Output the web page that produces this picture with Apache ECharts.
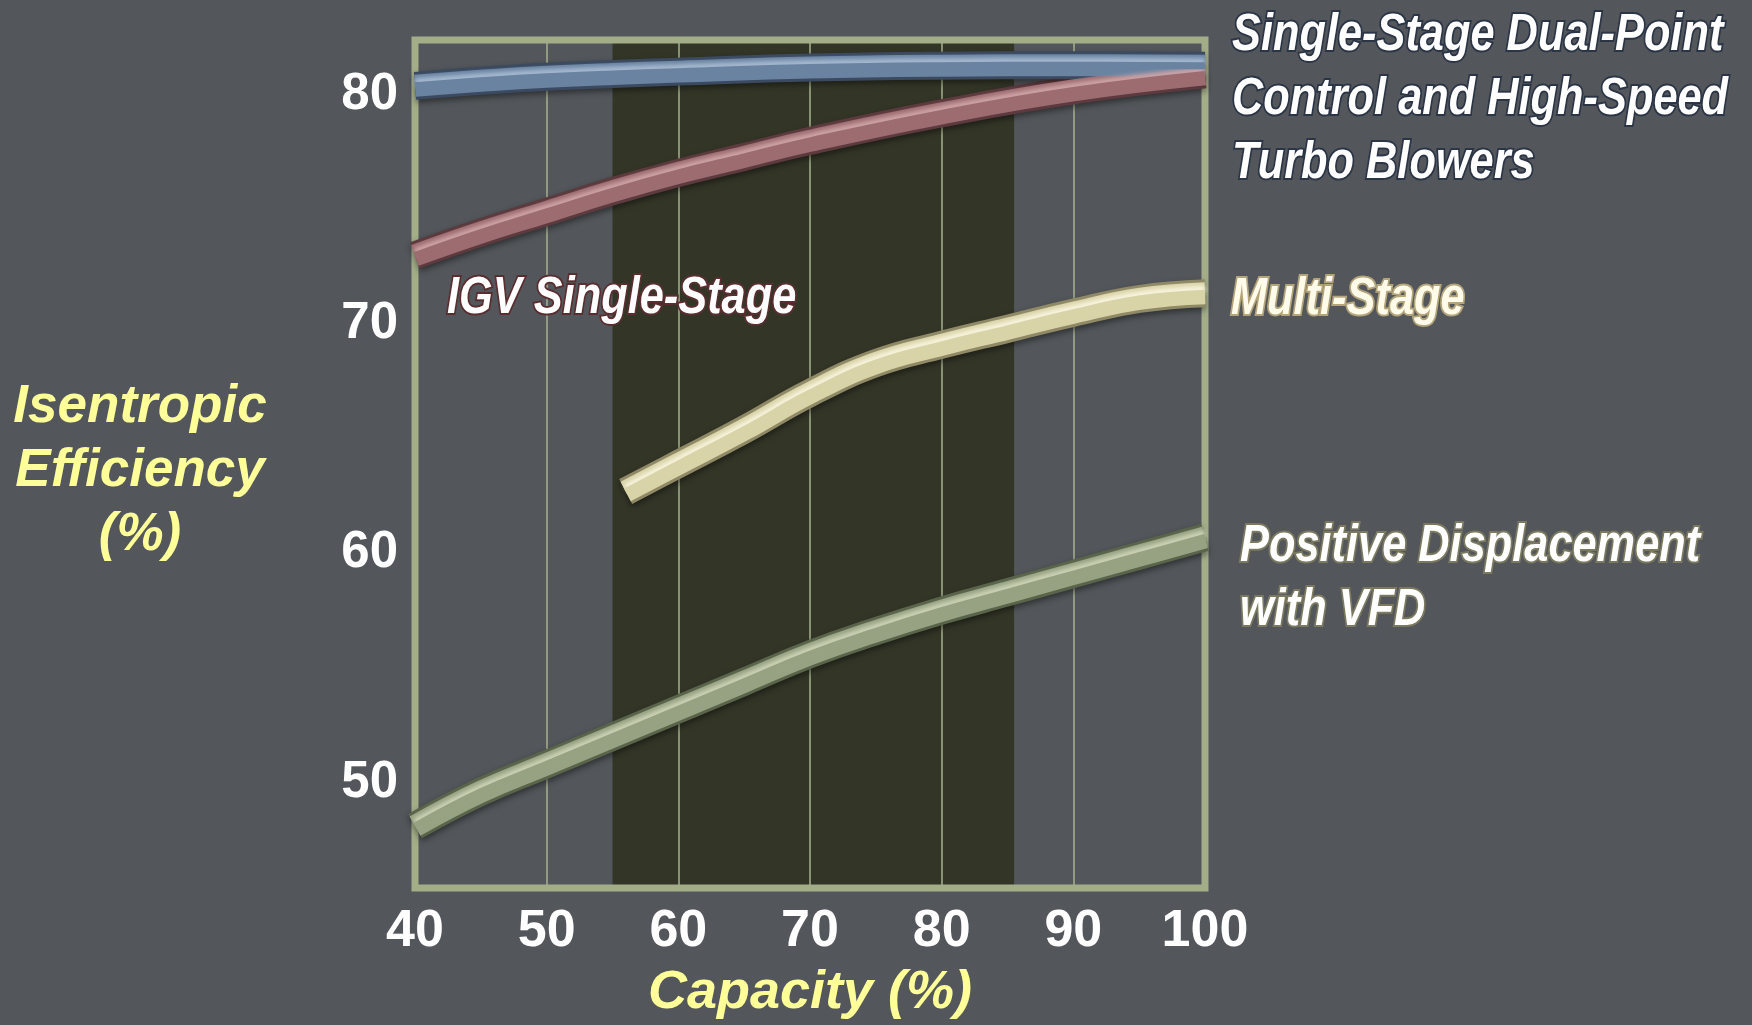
<!DOCTYPE html>
<html>
<head>
<meta charset="utf-8">
<title>Blower Isentropic Efficiency vs Capacity</title>
<script src="https://cdn.jsdelivr.net/npm/echarts@6/dist/echarts.min.js"></script>
<style>
  html, body { margin: 0; padding: 0; background: #53575b; }
  #chart { width: 1752px; height: 1025px; }
</style>
</head>
<body>
<div id="chart"></div>
<script>
// Capacity (%) on x, isentropic efficiency (%) on y
const efficiencyTicks = [50, 60, 70, 80];
const shadedRange = [55, 85.5];

// Single-Stage Dual-Point Control and High-Speed Turbo Blowers
const dualPointCapacity = [40, 45, 50, 55, 60, 70, 80, 90, 100];
const dualPointEff      = [80.2, 80.42, 80.6, 80.72, 80.82, 81.0, 81.08, 81.1, 81.08];

// IGV Single-Stage
const igvCapacity = [40, 45, 50, 55, 60, 65, 70, 80, 90, 100];
const igvEff      = [72.8, 73.8, 74.7, 75.6, 76.4, 77.1, 77.8, 79.0, 80.0, 80.7];

// Multi-Stage
const multiCapacity = [56, 60, 65, 70, 75, 80, 85, 90, 95, 100];
const multiEff      = [62.5, 63.7, 65.2, 66.8, 68.1, 68.9, 69.6, 70.3, 70.9, 71.15];

// Positive Displacement with VFD
const pdCapacity = [40, 45, 50, 55, 60, 65, 70, 75, 80, 85, 90, 95, 100];
const pdEff      = [47.9, 49.4, 50.6, 51.8, 53.0, 54.2, 55.4, 56.4, 57.3, 58.1, 58.9, 59.7, 60.5];

const curveLabels = {
  dual: ['Single-Stage Dual-Point', 'Control and High-Speed', 'Turbo Blowers'],
  igv: ['IGV Single-Stage'],
  multi: ['Multi-Stage'],
  pd: ['Positive Displacement', 'with VFD']
};

const FONT = '"Liberation Sans", Arial, Helvetica, sans-serif';
const pairs = (xs, ys) => xs.map((x, i) => [x, ys[i]]);

// Shaded tube look: dark rim, body, and an upper highlight stripe
function tube(name, data, dark, body, light) {
  const base = {
    type: 'line', name, data, smooth: 0.45, symbol: 'none', silent: true,
    animation: false, emphasis: { disabled: true }, z: 4
  };
  return [
    Object.assign({}, base, {
      lineStyle: { width: 28, color: dark, cap: 'butt', join: 'round',
        shadowColor: 'rgba(0,0,0,0.45)', shadowBlur: 6, shadowOffsetY: 3 }
    }),
    Object.assign({}, base, {
      z: 5,
      lineStyle: { width: 22, color: body, cap: 'butt', join: 'round' }
    }),
    Object.assign({}, base, {
      z: 6,
      lineStyle: { width: 7, color: body, cap: 'butt', join: 'round',
        shadowColor: light, shadowBlur: 4, shadowOffsetY: -4 }
    })
  ];
}

function textLine(str, x, y, opts) {
  return {
    type: 'text', x, y, scaleX: opts.scaleX || 1, silent: true, z: 20,
    style: Object.assign({
      text: str,
      font: opts.font,
      fill: opts.fill,
      align: opts.align || 'left',
      verticalAlign: 'middle'
    }, opts.extra || {})
  };
}

const annoFont = 'italic bold 51px ' + FONT;
const graphics = [];
function outlinedBlock(lines, x, y0, step, fill, stroke, glow) {
  lines.forEach((s, i) => graphics.push(textLine(s, x, y0 + i * step, {
    font: annoFont, fill, scaleX: 0.85,
    extra: { stroke, lineWidth: 4, strokeFirst: true, shadowColor: glow, shadowBlur: 5 }
  })));
}
outlinedBlock(curveLabels.dual, 1232, 36, 64, '#ffffff', '#2b3546', 'rgba(30,40,60,0.8)');
outlinedBlock(curveLabels.multi, 1231, 300, 64, '#fffbea', '#b3a47a', 'rgba(0,0,0,0)');
outlinedBlock(curveLabels.pd, 1240, 547, 64, '#ffffff', '#7b7a60', 'rgba(200,200,160,0.6)');
outlinedBlock(curveLabels.igv, 447, 299, 64, '#ffffff', '#5a2e30', 'rgba(60,20,20,0.6)');

// Vertical axis title
graphics.push({
  type: 'text', x: 140, y: 471, silent: true, z: 20,
  style: {
    text: 'Isentropic\nEfficiency\n(%)', font: 'italic bold 53px ' + FONT,
    fill: '#ffff99', align: 'center', verticalAlign: 'middle', lineHeight: 64
  }
});

const chart = echarts.init(document.getElementById('chart'), null, { renderer: 'canvas' });
chart.setOption({
  backgroundColor: '#53575b',
  animation: false,
  grid: {
    left: 415, right: 547, top: 40, bottom: 136, z: 3,
    show: true, borderColor: '#a3ae89', borderWidth: 7, backgroundColor: 'transparent'
  },
  xAxis: {
    type: 'value', min: 40, max: 100, interval: 10, z: 2,
    name: 'Capacity (%)', nameLocation: 'middle', nameGap: 78,
    nameTextStyle: { color: '#ffff99', fontFamily: FONT, fontSize: 54, fontStyle: 'italic', fontWeight: 'bold' },
    axisLine: { show: false }, axisTick: { show: false },
    axisLabel: { color: '#ffffff', fontFamily: FONT, fontSize: 52, fontWeight: 'bold', margin: 18 },
    splitLine: { show: true, lineStyle: { color: '#a7b28c', width: 1.5 } }
  },
  yAxis: {
    type: 'value', min: 45.2, max: 82.2, z: 2,
    axisLine: { show: false }, axisTick: { show: false },
    splitLine: { show: false },
    axisLabel: { customValues: efficiencyTicks, color: '#ffffff', fontFamily: FONT,
      fontSize: 51, fontWeight: 'bold', margin: 17, verticalAlign: 'top', lineHeight: 9 }
  },
  graphic: graphics,
  series: [
    {
      type: 'line', name: 'band', data: [], silent: true, z: 1,
      markArea: {
        silent: true,
        itemStyle: { color: '#333627' },
        data: [[{ xAxis: shadedRange[0] }, { xAxis: shadedRange[1] }]]
      }
    },
    ...tube('Positive Displacement with VFD', pairs(pdCapacity, pdEff), '#59644a', '#97a283', '#cdd4b6'),
    ...tube('Multi-Stage', pairs(multiCapacity, multiEff), '#8f8966', '#d9d3a8', '#f8f5df'),
    ...tube('IGV Single-Stage', pairs(igvCapacity, igvEff), '#5c3a3e', '#9c6c71', '#cfa5a7'),
    ...tube('Single-Stage Dual-Point Control and High-Speed Turbo Blowers',
      pairs(dualPointCapacity, dualPointEff), '#3b4a61', '#6a83a1', '#a7bbd1')
  ]
});
</script>
</body>
</html>
